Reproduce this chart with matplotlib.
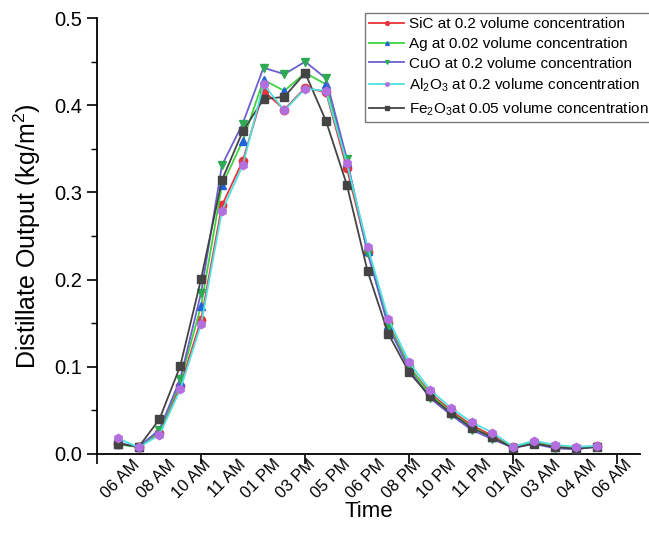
import matplotlib
matplotlib.use("Agg")
import matplotlib.pyplot as plt
import numpy as np

plt.rcParams['font.family'] = ['Liberation Sans', 'DejaVu Sans']
plt.rcParams['mathtext.fontset'] = 'custom'
plt.rcParams['mathtext.rm'] = 'Liberation Sans'

hours = list(range(1, 25))

sic = [0.012, 0.008, 0.024, 0.078, 0.154, 0.285, 0.336, 0.4165, 0.395, 0.420, 0.415, 0.328,
       0.232, 0.150, 0.100, 0.070, 0.050, 0.033, 0.021, 0.008, 0.014, 0.009, 0.007, 0.009]
ag = [0.011, 0.008, 0.026, 0.083, 0.170, 0.308, 0.359, 0.429, 0.4165, 0.437, 0.424, 0.335,
      0.233, 0.148, 0.100, 0.068, 0.048, 0.031, 0.019, 0.008, 0.013, 0.008, 0.006, 0.009]
cuo = [0.013, 0.008, 0.028, 0.086, 0.185, 0.331, 0.379, 0.443, 0.4356, 0.450, 0.4307, 0.3387,
       0.231, 0.146, 0.097, 0.064, 0.045, 0.0276, 0.017, 0.007, 0.0115, 0.0066, 0.0054, 0.0085]
al2o3 = [0.018, 0.0075, 0.022, 0.074, 0.149, 0.2785, 0.331, 0.424, 0.394, 0.419, 0.4165, 0.334,
         0.2375, 0.155, 0.105, 0.0736, 0.053, 0.0364, 0.0245, 0.0084, 0.0153, 0.0103, 0.0084, 0.0092]
fe2o3 = [0.012, 0.008, 0.040, 0.101, 0.2008, 0.314, 0.370, 0.407, 0.4096, 0.437, 0.382, 0.309,
         0.2096, 0.1376, 0.0935, 0.066, 0.047, 0.030, 0.019, 0.007, 0.012, 0.008, 0.006, 0.008]

time_labels = ['06 AM', '08 AM', '10 AM', '11 AM', '01 PM', '03 PM', '05 PM', '06 PM',
               '08 PM', '10 PM', '11 PM', '01 AM', '03 AM', '04 AM', '06 AM']

series_names = ['SiC at 0.2 volume concentration',
                'Ag at 0.02 volume concentration',
                'CuO at 0.2 volume concentration',
                'Al$_2$O$_3$ at 0.2 volume concentration',
                'Fe$_2$O$_3$at 0.05 volume concentration']

fig = plt.figure(figsize=(6.49, 5.46), dpi=100)
ax = fig.add_axes([0.1495, 0.1685, 0.837, 0.7985])

styles = [
    dict(color='#e8333c', marker='o', mfc='#e8333c', mec='#e8333c', zorder=3),
    dict(color='#3fd23f', marker='^', mfc='#1f63d8', mec='#1f63d8', zorder=3),
    dict(color='#6a5fcf', marker='v', mfc='#2eaa55', mec='#2eaa55', zorder=3),
    dict(color='#4fe0e0', marker='h', mfc='#b36ee0', mec='#b36ee0', zorder=5),
    dict(color='#444444', marker='s', mfc='#444444', mec='#444444', zorder=4),
]
data = [sic, ag, cuo, al2o3, fe2o3]
for d, name, st in zip(data, series_names, styles):
    ax.plot(hours, d, lw=1.3, ms=6, label=name, **st)

ax.set_xlim(0, 26.1)
ax.set_ylim(0, 0.5)
ax.set_xticks([0, 5, 10, 15, 20, 25])
ax.set_xticklabels([])
label_pos = np.linspace(1.7, 25.3, len(time_labels))
ax.set_xticks(label_pos, time_labels, minor=True)
ax.tick_params(axis='x', which='minor', length=0, labelsize=12, pad=2)
for t in ax.get_xticklabels(minor=True):
    t.set_rotation(45)
    t.set_ha('right')
    t.set_va('top')
    t.set_rotation_mode('anchor')

ax.set_yticks([0, 0.1, 0.2, 0.3, 0.4, 0.5])
ax.set_yticklabels(['0.0', '0.1', '0.2', '0.3', '0.4', '0.5'])
ax.set_yticks(np.arange(0.05, 0.5, 0.1), minor=True)
ax.tick_params(axis='y', which='major', length=7, width=1.2, labelsize=14.5, direction='out')
ax.tick_params(axis='y', which='minor', length=4, width=1.0, direction='out')
ax.tick_params(axis='x', which='major', length=7, width=1.2, direction='out')

for s in ['top', 'right']:
    ax.spines[s].set_visible(False)
for s in ['left', 'bottom']:
    ax.spines[s].set_linewidth(1.3)

ax.set_xlabel('Time', fontsize=16, labelpad=0)
ax.set_ylabel('Distillate Output (kg/m$^2$)', fontsize=18, labelpad=8)

leg = ax.legend(loc='upper left', bbox_to_anchor=(0.562, 0.977), bbox_transform=fig.transFigure,
                fontsize=11, markerscale=0.45, handlelength=2.3, handletextpad=0.3,
                borderpad=0.3, labelspacing=0.38, frameon=True, fancybox=False,
                edgecolor='#555555', borderaxespad=0)
leg.get_frame().set_linewidth(1.0)

fig.savefig('out.png', dpi=100)
